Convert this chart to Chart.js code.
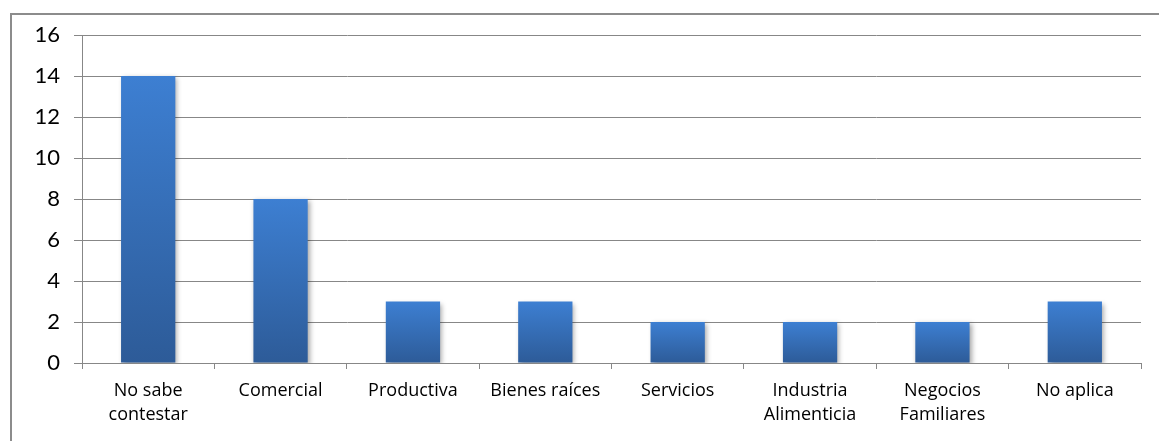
<!DOCTYPE html>
<html>
<head>
<meta charset="utf-8">
<script src="https://cdn.jsdelivr.net/npm/chart.js@4"></script>
<style>
  html, body { margin: 0; padding: 0; background: #fff; overflow: hidden; }
  #marco { position: absolute; left: 10px; top: 13px; width: 1200px; height: 500px; border: 2px solid #8c8c8c; box-sizing: border-box; }
  #lienzo { position: absolute; left: 0; top: 0; }
</style>
</head>
<body>
<div id="marco"></div>
<canvas id="lienzo" width="1159" height="441"></canvas>
<script>
// datos del gráfico
const categorias = [
  ['No sabe', 'contestar'],
  'Comercial',
  'Productiva',
  'Bienes raíces',
  'Servicios',
  ['Industria', 'Alimenticia'],
  ['Negocios', 'Familiares'],
  'No aplica'
];
const valores = [14, 8, 3, 3, 2, 2, 2, 3];
const ticksY = [0, 2, 4, 6, 8, 10, 12, 14, 16];

// degradado por barra (claro arriba, oscuro abajo)
function colorBarra(ctx) {
  const chart = ctx.chart;
  const y = chart.scales.y;
  if (!chart.chartArea || !y) return '#3570b8';
  const v = ctx.raw || 0;
  const top = y.getPixelForValue(v);
  const base = y.getPixelForValue(0);
  const g = chart.ctx.createLinearGradient(0, top, 0, base);
  g.addColorStop(0, '#3d7fd2');
  g.addColorStop(1, '#2d5b98');
  return g;
}

const sombra = {
  id: 'sombra',
  beforeDatasetsDraw(chart) {
    const c = chart.ctx;
    c.save();
    c.shadowColor = 'rgba(0,0,0,0.35)';
    c.shadowBlur = 5;
    c.shadowOffsetX = 2;
    c.shadowOffsetY = 2;
  },
  afterDatasetsDraw(chart) {
    chart.ctx.restore();
  }
};

const ctx = document.getElementById('lienzo').getContext('2d');
new Chart(ctx, {
  type: 'bar',
  data: {
    labels: categorias,
    datasets: [{
      data: valores,
      backgroundColor: colorBarra,
      borderWidth: 0,
      barPercentage: 0.41,
      categoryPercentage: 1
    }]
  },
  options: {
    responsive: false,
    animation: false,
    layout: { padding: { top: 35, right: 18, left: 0, bottom: 0 } },
    plugins: { legend: { display: false }, tooltip: { enabled: false } },
    scales: {
      x: {
        afterFit: s => { s.height = 78; },
        grid: { drawOnChartArea: false, drawTicks: true, tickLength: 6, color: '#878787', offset: true },
        border: { color: '#878787', width: 1 },
        ticks: {
          color: '#000',
          font: { family: 'Open Sans', size: 18, lineHeight: '24px' },
          padding: 10,
          maxRotation: 0,
          autoSkip: false
        }
      },
      y: {
        min: 0,
        max: 16,
        afterFit: s => { s.width = 82; },
        afterBuildTicks: s => { s.ticks = ticksY.map(v => ({ value: v })); },
        grid: { color: '#878787', lineWidth: 1, tickLength: 8 },
        border: { color: '#878787', width: 1 },
        ticks: {
          color: '#000',
          font: { family: 'Lato', size: 22 },
          padding: 14
        }
      }
    }
  },
  plugins: [sombra]
});
</script>
</body>
</html>
